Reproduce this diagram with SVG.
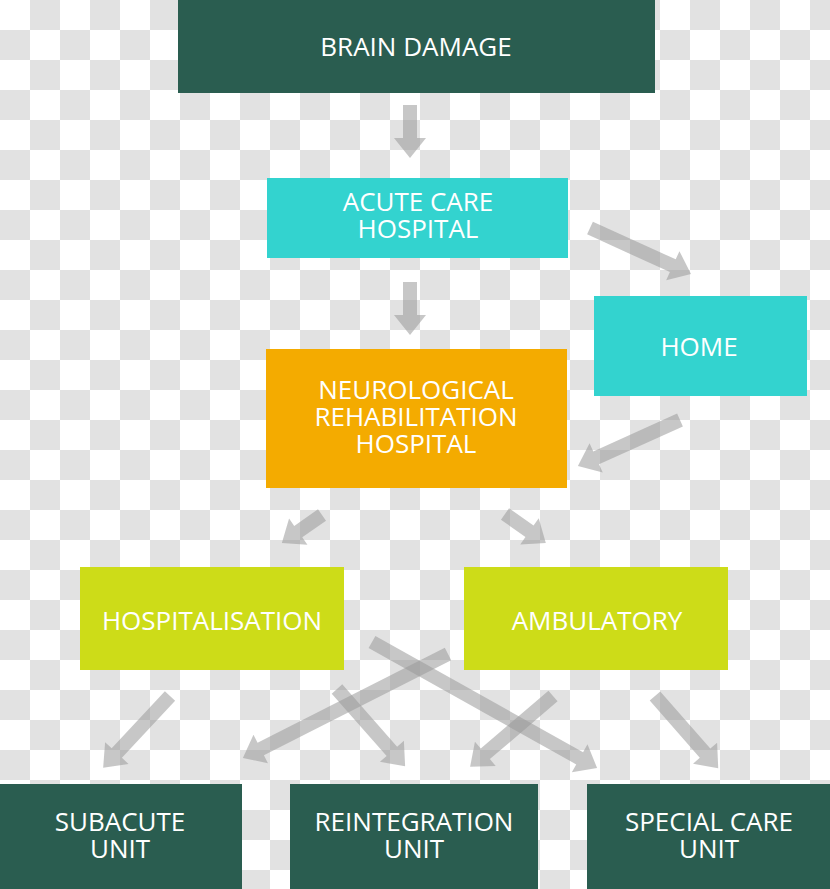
<svg xmlns="http://www.w3.org/2000/svg" width="830" height="889" viewBox="0 0 830 889">
<defs>
<pattern id="chk" x="0" y="0" width="60" height="60" patternUnits="userSpaceOnUse">
<rect width="60" height="60" fill="#ffffff"/>
<rect x="30" y="0" width="30" height="30" fill="#e2e2e2"/>
<rect x="0" y="30" width="30" height="30" fill="#e2e2e2"/>
</pattern>
</defs>
<style>
.dg{fill:#2a5d50}.cy{fill:#33d3cf}.or{fill:#f4ab00}.li{fill:#cddc18}
text{font-family:"Open Sans","Noto Sans","Liberation Sans",sans-serif;font-size:26px;fill:#ffffff;text-anchor:middle}
.ar path{fill:#999999;fill-opacity:0.55}
</style>
<rect width="830" height="889" fill="url(#chk)"/>
<g id="connectors" class="ar">
<path d="M0,-7 H33 V-16 L53,0 L33,16 V7 H0 Z" transform="translate(410,105) rotate(90)"/>
<path d="M0,-7 H33 V-16 L53,0 L33,16 V7 H0 Z" transform="translate(410,282) rotate(90)"/>
<path d="M0,-7 H91 V-16 L111,0 L91,16 V7 H0 Z" transform="translate(590,228) rotate(24.5)"/>
<path d="M0,-7 H92 V-16 L112,0 L92,16 V7 H0 Z" transform="translate(680,420) rotate(155.7)"/>
<path d="M0,-7 H29 V-16 L49,0 L29,16 V7 H0 Z" transform="translate(322,515) rotate(145)"/>
<path d="M0,-7 H30 V-16 L50,0 L30,16 V7 H0 Z" transform="translate(505,514) rotate(35.3)"/>
<path d="M0,-7 H78 V-16 L98,0 L78,16 V7 H0 Z" transform="translate(170,696) rotate(133)"/>
<path d="M0,-7 H210 V-16 L230,0 L210,16 V7 H0 Z" transform="translate(448,654) rotate(153.1)"/>
<path d="M0,-7 H83 V-16 L103,0 L83,16 V7 H0 Z" transform="translate(337,689) rotate(48.6)"/>
<path d="M0,-7 H238 V-16 L258,0 L238,16 V7 H0 Z" transform="translate(372,642) rotate(29.25)"/>
<path d="M0,-7 H89 V-16 L109,0 L89,16 V7 H0 Z" transform="translate(553,696) rotate(139.5)"/>
<path d="M0,-7 H76 V-16 L96,0 L76,16 V7 H0 Z" transform="translate(655,696) rotate(48.8)"/>
</g>
<g id="brain-damage"><rect class="dg" x="178" y="0" width="477" height="93"/><text x="416" y="56">BRAIN DAMAGE</text></g>
<g id="acute-care"><rect class="cy" x="267" y="178" width="301" height="80"/><text x="418" y="211">ACUTE CARE</text><text x="418" y="238">HOSPITAL</text></g>
<g id="home"><rect class="cy" x="594" y="296" width="213" height="100"/><text x="699" y="356">HOME</text></g>
<g id="neuro-rehab"><rect class="or" x="266" y="349" width="301" height="139"/><text x="416" y="399">NEUROLOGICAL</text><text x="416" y="426">REHABILITATION</text><text x="416" y="453">HOSPITAL</text></g>
<g id="hospitalisation"><rect class="li" x="80" y="567" width="264" height="103"/><text x="212" y="630">HOSPITALISATION</text></g>
<g id="ambulatory"><rect class="li" x="464" y="567" width="264" height="103"/><text x="597" y="630">AMBULATORY</text></g>
<g id="subacute"><rect class="dg" x="0" y="784" width="242" height="105"/><text x="120" y="831">SUBACUTE</text><text x="120" y="858">UNIT</text></g>
<g id="reintegration"><rect class="dg" x="290" y="784" width="248" height="105"/><text x="414" y="831">REINTEGRATION</text><text x="414" y="858">UNIT</text></g>
<g id="special-care"><rect class="dg" x="587" y="784" width="243" height="105"/><text x="709" y="831">SPECIAL CARE</text><text x="709" y="858">UNIT</text></g>
</svg>
